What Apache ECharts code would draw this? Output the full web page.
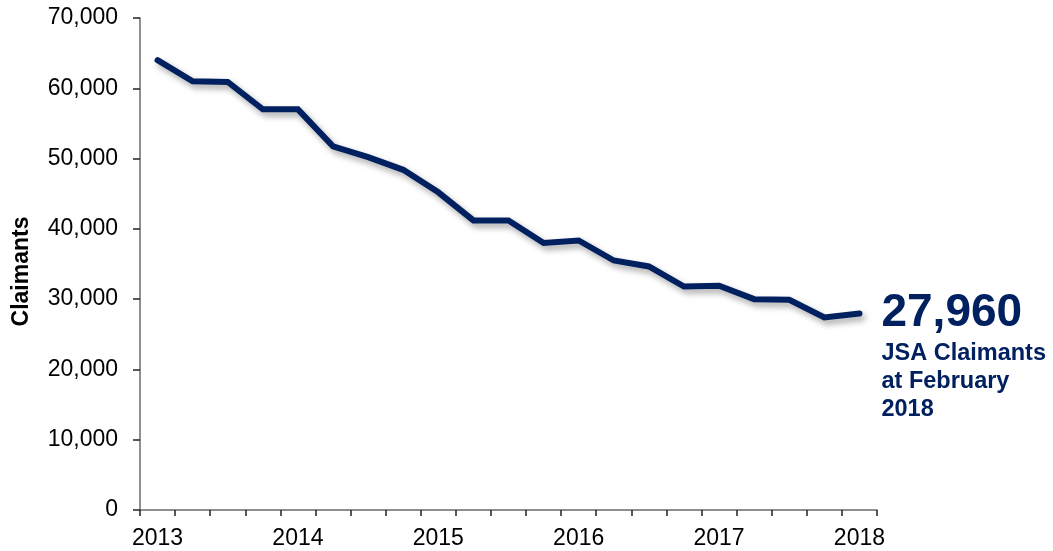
<!DOCTYPE html>
<html>
<head>
<meta charset="utf-8">
<script src="https://cdn.jsdelivr.net/npm/echarts@6/dist/echarts.min.js"></script>
<style>html,body{margin:0;padding:0;background:#fff}#c{width:1053px;height:551px}</style>
</head>
<body>
<div id="c"></div>
<script>
const categories = ['Feb 2013','May 2013','Aug 2013','Nov 2013','Feb 2014','May 2014','Aug 2014','Nov 2014',
  'Feb 2015','May 2015','Aug 2015','Nov 2015','Feb 2016','May 2016','Aug 2016','Nov 2016',
  'Feb 2017','May 2017','Aug 2017','Nov 2017','Feb 2018'];
const claimants = [64000,61000,60900,57000,57000,51750,50200,48400,45200,41200,41200,38000,38350,35500,34650,31800,31900,30000,29900,27400,27960];
const yTicks = {min:0, max:70000, interval:10000};
const annotationLines = ['JSA Claimants','at February','2018'];

const navy = '#002060';
const font = '"Liberation Sans", Arial, sans-serif';
const chart = echarts.init(document.getElementById('c'));
chart.setOption({
  animation:false,
  grid:{left:140, right:176, top:18, bottom:41, containLabel:false},
  xAxis:{
    type:'category', data:categories, boundaryGap:true,
    axisLine:{lineStyle:{color:'#6b6b6b', width:1.5}},
    axisTick:{show:true, interval:0, length:6, lineStyle:{color:'#222', width:1.5}},
    axisLabel:{interval:3, margin:17, color:'#000', fontSize:23, fontFamily:font,
      formatter:v=>v.split(' ')[1]}
  },
  yAxis:{
    type:'value', min:yTicks.min, max:yTicks.max, interval:yTicks.interval,
    name:'Claimants', nameLocation:'middle', nameGap:107, nameRotate:90,
    nameTextStyle:{fontSize:23, fontWeight:'bold', color:'#000', fontFamily:font, padding:[0,15,0,0]},
    axisLine:{show:true, lineStyle:{color:'#6b6b6b', width:1.5}},
    axisTick:{show:true, length:7, lineStyle:{color:'#222', width:1.5}},
    splitLine:{show:false},
    axisLabel:{margin:22, color:'#000', fontSize:23, fontFamily:font,
      formatter:v=>v.toLocaleString('en-US')}
  },
  series:[{
    type:'line', data:claimants, symbol:'none', smooth:false,
    lineStyle:{color:navy, width:6, cap:'round', join:'miter',
      shadowColor:'rgba(0,0,0,0.35)', shadowBlur:6, shadowOffsetX:3, shadowOffsetY:4},
    endLabel:{
      show:true, distance:22, align:'left', verticalAlign:'middle',
      padding:[84,0,0,0],
      formatter:p=>'{big|'+p.value.toLocaleString('en-US')+'}\n'+annotationLines.map(s=>'{sub|'+s+'}').join('\n'),
      rich:{
        big:{fontSize:46, fontWeight:'bold', color:navy, fontFamily:font, lineHeight:52},
        sub:{fontSize:23.5, fontWeight:'bold', color:navy, fontFamily:font, lineHeight:28}
      }
    }
  }]
});
</script>
</body>
</html>
